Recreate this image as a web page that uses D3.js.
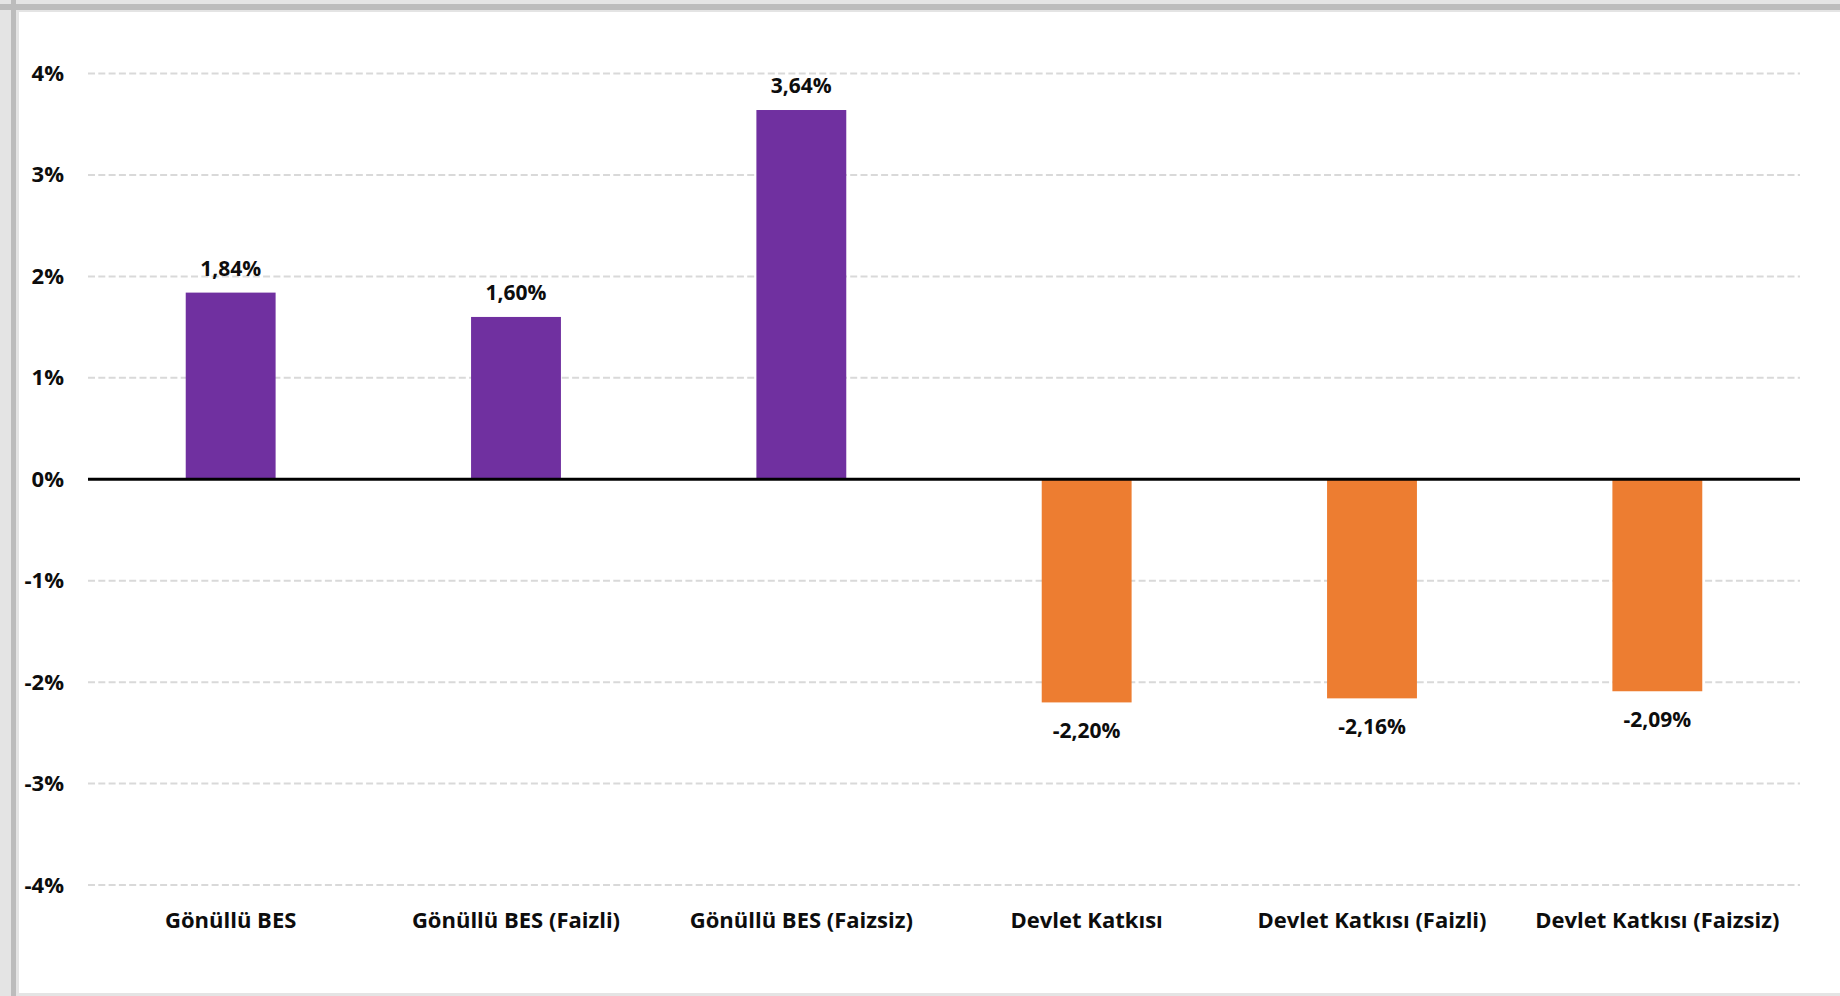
<!DOCTYPE html>
<html>
<head>
<meta charset="utf-8">
<script src="https://cdn.jsdelivr.net/npm/d3@7"></script>
<style>
html,body{margin:0;padding:0;background:#fff;}
svg{display:block;font-family:"Open Sans",sans-serif;}
</style>
</head>
<body>
<svg id="chart" width="1840" height="996"></svg>
<script>
const categories = ["Gönüllü BES","Gönüllü BES (Faizli)","Gönüllü BES (Faizsiz)","Devlet Katkısı","Devlet Katkısı (Faizli)","Devlet Katkısı (Faizsiz)"];
const values = [1.84, 1.60, 3.64, -2.20, -2.16, -2.09];
const valueLabels = ["1,84%","1,60%","3,64%","-2,20%","-2,16%","-2,09%"];
const yTicks = [4,3,2,1,0,-1,-2,-3,-4];
const yTickLabels = ["4%","3%","2%","1%","0%","-1%","-2%","-3%","-4%"];

const svg = d3.select("#chart");
const W = 1840, H = 996;

// frame / shadow
svg.append("rect").attr("x",0).attr("y",0).attr("width",W).attr("height",H).attr("fill","#e4e4e4");
svg.append("rect").attr("x",0).attr("y",4).attr("width",W).attr("height",6).attr("fill","#bcbcbc");
svg.append("rect").attr("x",11).attr("y",0).attr("width",5).attr("height",H).attr("fill","#bcbcbc");
svg.append("rect").attr("x",19).attr("y",12).attr("width",W-19).attr("height",981).attr("fill","#ffffff");

const x = d3.scaleBand().domain(categories).range([88,1800]).paddingInner(0.685).paddingOuter(0.3425);
const y = d3.scaleLinear().domain([-4,4]).range([885,73.5]);

// gridlines
svg.append("g").selectAll("line").data(yTicks.filter(d=>d!==0)).join("line")
  .attr("x1",88).attr("x2",1800)
  .attr("y1",d=>y(d)).attr("y2",d=>y(d))
  .attr("stroke","#d9d9d9").attr("stroke-width",2).attr("stroke-dasharray","7,3.3");

// y axis labels
const yAxis = d3.axisLeft(y).tickValues(yTicks).tickSize(0).tickPadding(0)
  .tickFormat(d=>yTickLabels[yTicks.indexOf(d)]);
const ga = svg.append("g").attr("transform","translate(64,0)").call(yAxis);
ga.select(".domain").remove();
ga.selectAll("text").attr("font-size",22).attr("font-weight","bold").attr("fill","#0d0d0d")
  .attr("font-family","'Open Sans',sans-serif");

// bars
svg.append("g").selectAll("rect").data(values).join("rect")
  .attr("x",(d,i)=>x(categories[i]))
  .attr("width",x.bandwidth())
  .attr("y",d=>d>=0?y(d):y(0))
  .attr("height",d=>Math.abs(y(d)-y(0)))
  .attr("fill",d=>d>=0?"#7030a0":"#ed7d31");

// zero line
svg.append("line").attr("x1",88).attr("x2",1800).attr("y1",y(0)).attr("y2",y(0))
  .attr("stroke","#000").attr("stroke-width",3);

// value labels
svg.append("g").selectAll("text").data(values).join("text")
  .attr("x",(d,i)=>x(categories[i])+x.bandwidth()/2)
  .attr("y",d=>d>=0?y(d)-17:y(d)+36)
  .attr("text-anchor","middle")
  .attr("font-size",21).attr("font-weight","bold").attr("fill","#0d0d0d")
  .text((d,i)=>valueLabels[i]);

// x axis labels
const xAxis = d3.axisBottom(x).tickSize(0).tickPadding(0);
const gx = svg.append("g").attr("transform","translate(0,912)").call(xAxis);
gx.select(".domain").remove();
gx.selectAll("text").attr("font-size",22).attr("font-weight","bold").attr("fill","#0d0d0d")
  .attr("font-family","'Open Sans',sans-serif");
</script>
</body>
</html>
